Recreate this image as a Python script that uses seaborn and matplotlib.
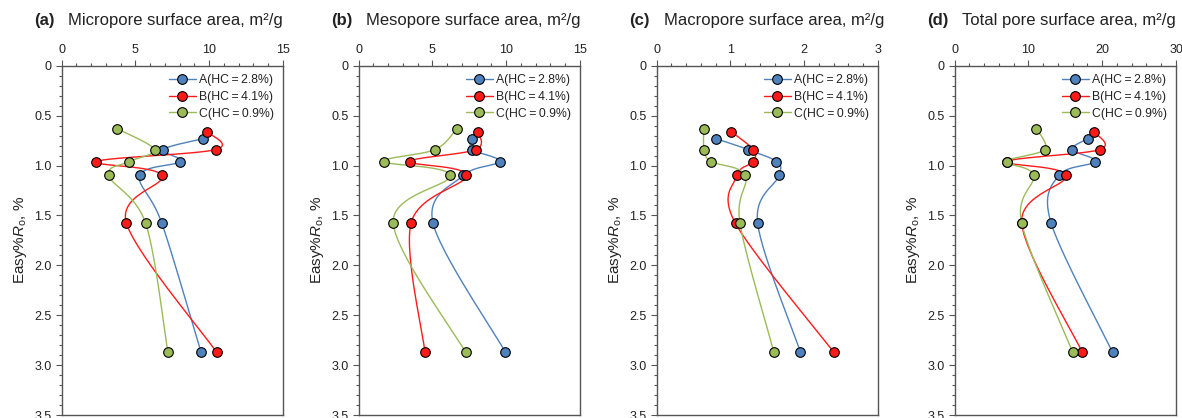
"""
Pore surface area vs. maturity (Easy%Ro) for samples A, B, C.
Four panels: micro-, meso-, macropore and total surface area.
"""

import numpy as np
import pandas as pd
import matplotlib
matplotlib.use("Agg")
import matplotlib.pyplot as plt
from matplotlib.lines import Line2D
from matplotlib.ticker import MultipleLocator, FormatStrFormatter
import seaborn as sns

# -- Data -----------------------------------
SAMPLES = ["A(HC\u2009=\u20092.8%)", "B(HC\u2009=\u20094.1%)", "C(HC\u2009=\u20090.9%)"]
COLORS  = ["#4f81bd", "#ff1a1a", "#9bbb59"]

RO_A = [0.73, 0.84, 0.96, 1.10, 1.58, 2.87]
RO_B = [0.66, 0.84, 0.96, 1.10, 1.58, 2.87]
RO_C = [0.63, 0.84, 0.96, 1.10, 1.58, 2.87]

MICRO_A = [9.6, 6.9, 8.05, 5.3, 6.8, 9.45]
MICRO_B = [9.85, 10.45, 2.35, 6.8, 4.4, 10.5]
MICRO_C = [3.75, 6.3, 4.6, 3.2, 5.7, 7.2]

MESO_A = [7.7, 7.7, 9.55, 7.1, 5.05, 9.95]
MESO_B = [8.1, 7.95, 3.5, 7.3, 3.55, 4.5]
MESO_C = [6.65, 5.2, 1.75, 6.2, 2.35, 7.25]

MACRO_A = [0.80, 1.24, 1.62, 1.66, 1.37, 1.95]
MACRO_B = [1.01, 1.31, 1.31, 1.09, 1.07, 2.40]
MACRO_C = [0.64, 0.645, 0.74, 1.20, 1.13, 1.59]

TOTAL_A = [18.1, 15.9, 19.05, 14.1, 13.1, 21.4]
TOTAL_B = [18.9, 19.7, 7.1, 15.1, 9.1, 17.3]
TOTAL_C = [11.1, 12.2, 7.1, 10.7, 9.1, 16.0]

PANELS = [
    ("(a)", "Micropore surface area, m\u00b2/g", 15, 5, 1,
     [MICRO_A, MICRO_B, MICRO_C]),
    ("(b)", "Mesopore surface area, m\u00b2/g", 15, 5, 1,
     [MESO_A, MESO_B, MESO_C]),
    ("(c)", "Macropore surface area, m\u00b2/g", 3, 1, 0.2,
     [MACRO_A, MACRO_B, MACRO_C]),
    ("(d)", "Total pore surface area, m\u00b2/g", 30, 10, 2,
     [TOTAL_A, TOTAL_B, TOTAL_C]),
]
RO = [RO_A, RO_B, RO_C]


def smooth(x, y, n=30):
    """Excel-style smoothed line (Catmull-Rom as cubic Bezier)."""
    p = np.column_stack([x, y]).astype(float)
    p = np.vstack([p[0], p, p[-1]])
    t = np.linspace(0, 1, n)[:, None]
    out = []
    for i in range(1, len(p) - 2):
        p0, p1, p2, p3 = p[i - 1], p[i], p[i + 1], p[i + 2]
        c1 = p1 + (p2 - p0) / 6
        c2 = p2 - (p3 - p1) / 6
        seg = ((1 - t) ** 3 * p1 + 3 * (1 - t) ** 2 * t * c1
               + 3 * (1 - t) * t ** 2 * c2 + t ** 3 * p2)
        out.append(seg if i == 1 else seg[1:])
    out = np.vstack(out)
    return out[:, 0], out[:, 1]


# -- Style ----------------------------------
sns.set_style("ticks")
plt.rcParams["font.family"] = ["Liberation Sans", "DejaVu Sans"]
plt.rcParams["mathtext.fontset"] = "custom"
plt.rcParams["mathtext.rm"] = "Liberation Sans"
plt.rcParams["mathtext.it"] = "Liberation Sans:italic"
EDGE = "#555555"
TXT = "#222222"

fig = plt.figure(figsize=(11.82, 4.18), dpi=100)
W, H = 1182, 418
lefts = [61.5, 358.5, 656.5, 954.5]
ax_w, top, bottom = 221.5, 65.7, 415.0

for k, (tag, title, xmax, major, minor, vals) in enumerate(PANELS):
    ax = fig.add_axes([lefts[k] / W, 1 - bottom / H,
                       ax_w / W, (bottom - top) / H])

    for s in range(3):
        df = pd.DataFrame({"x": vals[s], "ro": RO[s]})
        sx, sy = smooth(df["x"], df["ro"])
        ax.plot(sx, sy, color=COLORS[s], lw=1.0, zorder=2 + s * 0.1)
        sns.scatterplot(data=df, x="x", y="ro", ax=ax, color=COLORS[s],
                        s=48, edgecolor="black", linewidth=0.8,
                        zorder=3 + s * 0.1, legend=False)

    ax.set_xlim(0, xmax)
    ax.set_ylim(3.5, 0)
    ax.xaxis.set_major_locator(MultipleLocator(major))
    ax.xaxis.set_minor_locator(MultipleLocator(minor))
    ax.yaxis.set_major_locator(MultipleLocator(0.5))
    ax.yaxis.set_minor_locator(MultipleLocator(0.1))
    ax.xaxis.set_major_formatter(FormatStrFormatter("%g"))
    ax.yaxis.set_major_formatter(
        plt.FuncFormatter(lambda v, _: "0" if v == 0 else f"{v:.1f}"))
    ax.xaxis.tick_top()
    ax.tick_params(axis="both", which="major", length=4, width=0.8,
                   color=EDGE, labelsize=9, labelcolor=TXT, pad=3,
                   direction="out")
    ax.tick_params(axis="both", which="minor", length=2.5, width=0.8,
                   color=EDGE, direction="out")
    ax.tick_params(axis="x", which="both", top=True, bottom=False)
    ax.tick_params(axis="y", which="both", left=True, right=False)
    for sp in ax.spines.values():
        sp.set_visible(True)
        sp.set_color(EDGE)
        sp.set_linewidth(1.0)

    ax.set_xlabel("")
    ax.set_ylabel("Easy%$R_\\mathrm{o}$, %", fontsize=11, labelpad=4,
                  color=TXT)

    # -- Panel title ------------------------
    x0 = lefts[k] - 27
    fig.text(x0 / W, 1 - 21 / H, tag, fontsize=12, fontweight="bold",
             va="center", ha="left", color=TXT)
    fig.text((x0 + 34) / W, 1 - 21 / H, title, fontsize=12,
             va="center", ha="left", color=TXT)

    handles = [Line2D([], [], color=COLORS[s], lw=1.0, marker="o",
                      markersize=7, markerfacecolor=COLORS[s],
                      markeredgecolor="black", markeredgewidth=0.8)
               for s in range(3)]
    leg = ax.legend(handles, SAMPLES, loc="upper right", frameon=False,
                    fontsize=8.8, handlelength=2.2, handletextpad=0.3,
                    labelspacing=0.38, borderaxespad=0.2, borderpad=0.5)
    for t in leg.get_texts():
        t.set_color(TXT)

fig.savefig("out.png", dpi=100)
plt.close()
